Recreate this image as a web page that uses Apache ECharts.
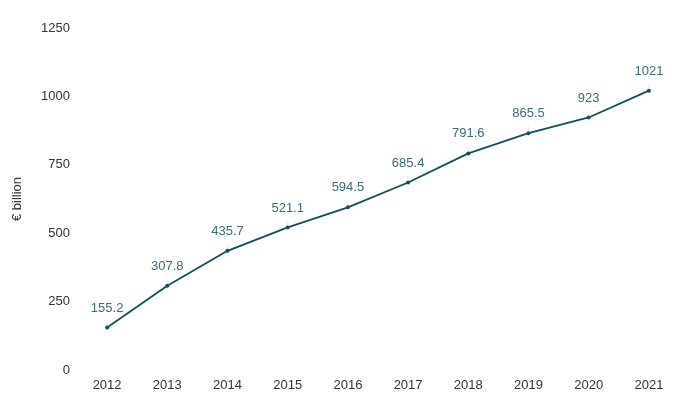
<!DOCTYPE html>
<html>
<head>
<meta charset="utf-8">
<script src="https://cdn.jsdelivr.net/npm/echarts@6/dist/echarts.min.js"></script>
<style>
  html, body { margin: 0; padding: 0; background: #fff; }
  #main { width: 699px; height: 414px; }
</style>
</head>
<body>
<div id="main"></div>
<script>
// 年份与数值
var years = ['2012', '2013', '2014', '2015', '2016', '2017', '2018', '2019', '2020', '2021'];
var values = [155.2, 307.8, 435.7, 521.1, 594.5, 685.4, 791.6, 865.5, 923, 1021];

var myChart = echarts.init(document.getElementById('main'));

var option = {
    animation: false,
    grid: { left: 77, right: 20, top: 28, bottom: 44, containLabel: false, outerBoundsMode: 'none' },
    xAxis: {
        type: 'category',
        data: years,
        axisLine: { show: false },
        axisTick: { show: false },
        axisLabel: { color: '#333', fontSize: 13, margin: 9, fontFamily: 'Arial' }
    },
    yAxis: {
        type: 'value',
        min: 0,
        max: 1250,
        interval: 250,
        name: '€ billion',
        nameLocation: 'middle',
        nameGap: 53,
        nameRotate: 90,
        nameTextStyle: { color: '#333', fontSize: 13, fontFamily: 'Arial', padding: [0, 0, 0, 0] },
        splitLine: { show: false },
        axisLabel: {
            color: '#333', fontSize: 13, margin: 7, fontFamily: 'Arial',
            formatter: function (v) { return String(v); }
        }
    },
    series: [{
        type: 'line',
        data: values,
        symbol: 'circle',
        symbolSize: 4,
        itemStyle: { color: '#134e5a' },
        lineStyle: { color: '#134e5a', width: 1.8 },
        label: {
            show: true,
            position: 'top',
            distance: 11,
            color: '#3d6b78',
            fontSize: 13,
            fontFamily: 'Arial'
        },
        labelLine: { show: true, lineStyle: { color: '#e6e6e6', width: 1 } }
    }]
};

myChart.setOption(option);
</script>
</body>
</html>
